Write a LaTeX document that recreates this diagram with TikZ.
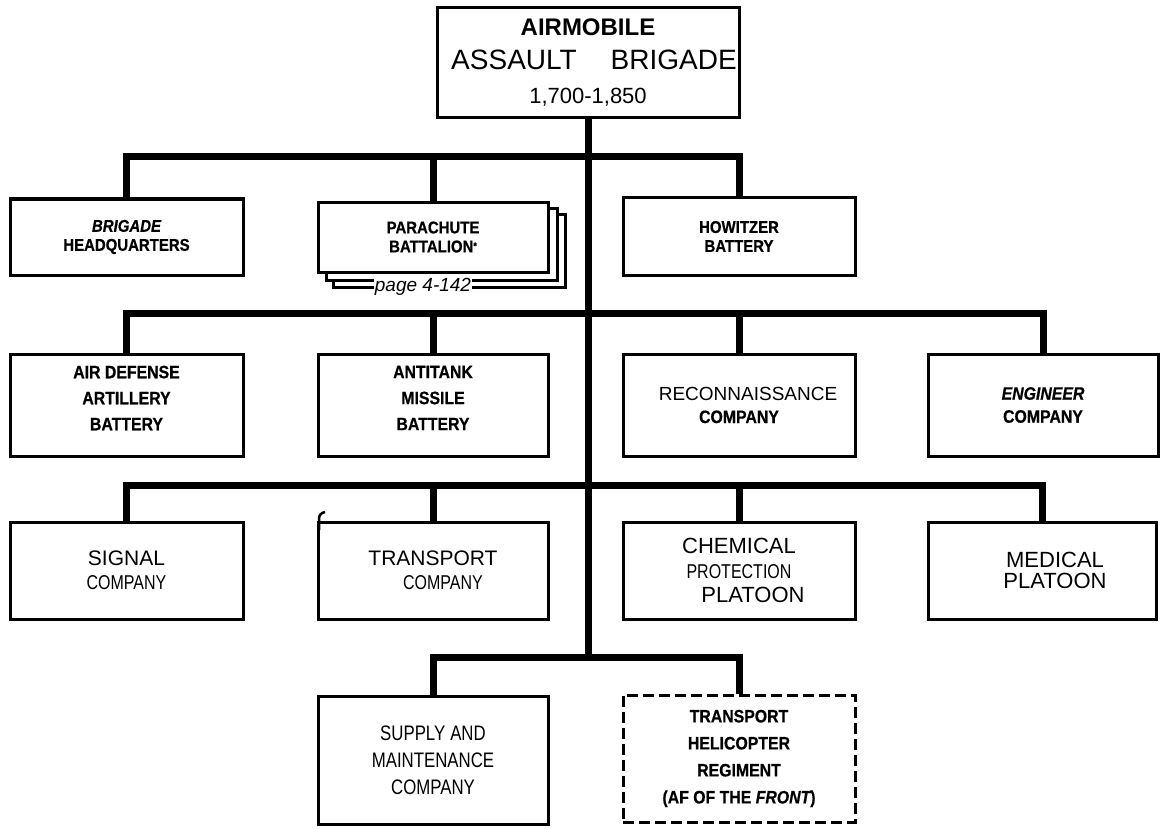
\documentclass[tikz,border=0pt]{standalone}
\usepackage{fontspec}
\setmainfont{Liberation Sans}
\newfontfamily\cbf{Liberation Sans}[FakeStretch=0.88,FakeBold=0.6]
\newfontfamily\cnr{Liberation Sans}[FakeStretch=0.8]
\begin{document}
\begin{tikzpicture}[x=1pt,y=-1pt,
  box/.style={draw, line width=3pt, fill=white, rectangle, inner sep=0pt, align=center},
  dbox/.style={box, dash pattern=on 11pt off 5pt},
  conn/.style={line width=7pt, line join=miter},
  bc/.style={font=\cbf\bfseries\fontsize{17}{19}\selectfont},
  bc3/.style={font=\cbf\bfseries\fontsize{18}{26}\selectfont},
  rg/.style={font=\fontsize{21}{24}\selectfont}]
\useasboundingbox (0,0) rectangle (1161,829);
\fill[white] (0,0) rectangle (1161,829);

% top
\node[box, minimum width=302pt, minimum height=110pt, font=\fontsize{28}{34}\selectfont] (top) at (588,63)
  {{\bfseries\fontsize{24}{34}\selectfont AIRMOBILE}\\\hspace*{12pt}ASSAULT\hspace{34pt}BRIGADE\\{\fontsize{22}{34}\selectfont 1,700-1,850}};

% row 1
\node[box, minimum width=233pt, minimum height=76pt, bc] (hq) at (126.5,237) {{\itshape BRIGADE}\\HEADQUARTERS};
\node[box, minimum width=232pt, minimum height=73pt] (para3) at (449,250.5) {};
\node[box, minimum width=231pt, minimum height=72pt] (para2) at (441.5,244) {};
\node[box, minimum width=230pt, minimum height=70pt, bc] (para) at (433,237) {PARACHUTE\\BATTALION\raisebox{3pt}{\fontsize{10}{10}\selectfont *}};
\node[fill=white, inner sep=1pt, font=\itshape\fontsize{19}{19}\selectfont] (pg) at (423,286.5) {page 4-142};
\node[box, minimum width=232pt, minimum height=77pt, bc] (how) at (739,236.5) {HOWITZER\\BATTERY};

% row 2
\node[box, minimum width=233pt, minimum height=102pt, bc3, text depth=14pt] (ad) at (126.5,405) {AIR DEFENSE\\ARTILLERY\\BATTERY};
\node[box, minimum width=230pt, minimum height=102pt, bc3, text depth=14pt] (at) at (433,405) {ANTITANK\\MISSILE\\BATTERY};
\node[box, minimum width=232pt, minimum height=102pt, font=\fontsize{19}{23}\selectfont] (rec) at (739,405)
  {\hspace*{18pt}RECONNAISSANCE\\{\cbf\bfseries\fontsize{18}{23}\selectfont COMPANY}};
\node[box, minimum width=230pt, minimum height=102pt, font=\cbf\bfseries\fontsize{18}{23}\selectfont] (eng) at (1043,405) {{\itshape ENGINEER}\\COMPANY};

% row 3
\node[box, minimum width=233pt, minimum height=97pt, rg] (sig) at (126.5,570.5) {SIGNAL\\{\cnr\fontsize{20}{24}\selectfont COMPANY}};
\node[box, minimum width=230pt, minimum height=97pt, rg] (tra) at (433,570.5) {TRANSPORT\\\hspace*{20pt}{\cnr\fontsize{20}{24}\selectfont COMPANY}};
\node[box, minimum width=232pt, minimum height=97pt, font=\fontsize{22}{24.5}\selectfont] (che) at (739,570.5)
  {CHEMICAL\\{\cnr\fontsize{20}{24}\selectfont PROTECTION}\\\hspace*{28pt}PLATOON};
\node[box, minimum width=228pt, minimum height=97pt, font=\fontsize{22}{21}\selectfont] (med) at (1042,570.5)
  {\hspace*{26pt}MEDICAL\\\hspace*{26pt}PLATOON};

% row 4
\node[box, minimum width=230pt, minimum height=128pt, font=\cnr\fontsize{21}{27}\selectfont] (sup) at (433,760)
  {SUPPLY\hspace{5pt}AND\\MAINTENANCE\\COMPANY};
\node[dbox, minimum width=232pt, minimum height=127pt, font=\cbf\bfseries\fontsize{18}{27}\selectfont] (heli) at (739,758.5)
  {TRANSPORT\\HELICOPTER\\REGIMENT\\(AF OF THE {\itshape FRONT})};

% small mark at transport box
\draw[line width=2.5pt] (319,530) -- (319,519) .. controls (319,515) and (321,513) .. (325,512);

% connectors
\coordinate (c1) at (588,157);
\coordinate (c2) at (588,313);
\coordinate (c3) at (588,485);
\coordinate (c4) at (588,657);
\draw[conn] (top.south) -- (c4);
\draw[conn] (hq.north) |- (c1) -| (how.north);
\draw[conn] (para.north) -- (para.north |- c1);
\draw[conn] (ad.north) |- (c2) -| (eng.north);
\draw[conn] (at.north) -- (at.north |- c2);
\draw[conn] (rec.north) -- (rec.north |- c2);
\draw[conn] (sig.north) |- (c3) -| (med.north);
\draw[conn] (tra.north) -- (tra.north |- c3);
\draw[conn] (che.north) -- (che.north |- c3);
\draw[conn] (sup.north) |- (c4) -| (heli.north);
\end{tikzpicture}
\end{document}
